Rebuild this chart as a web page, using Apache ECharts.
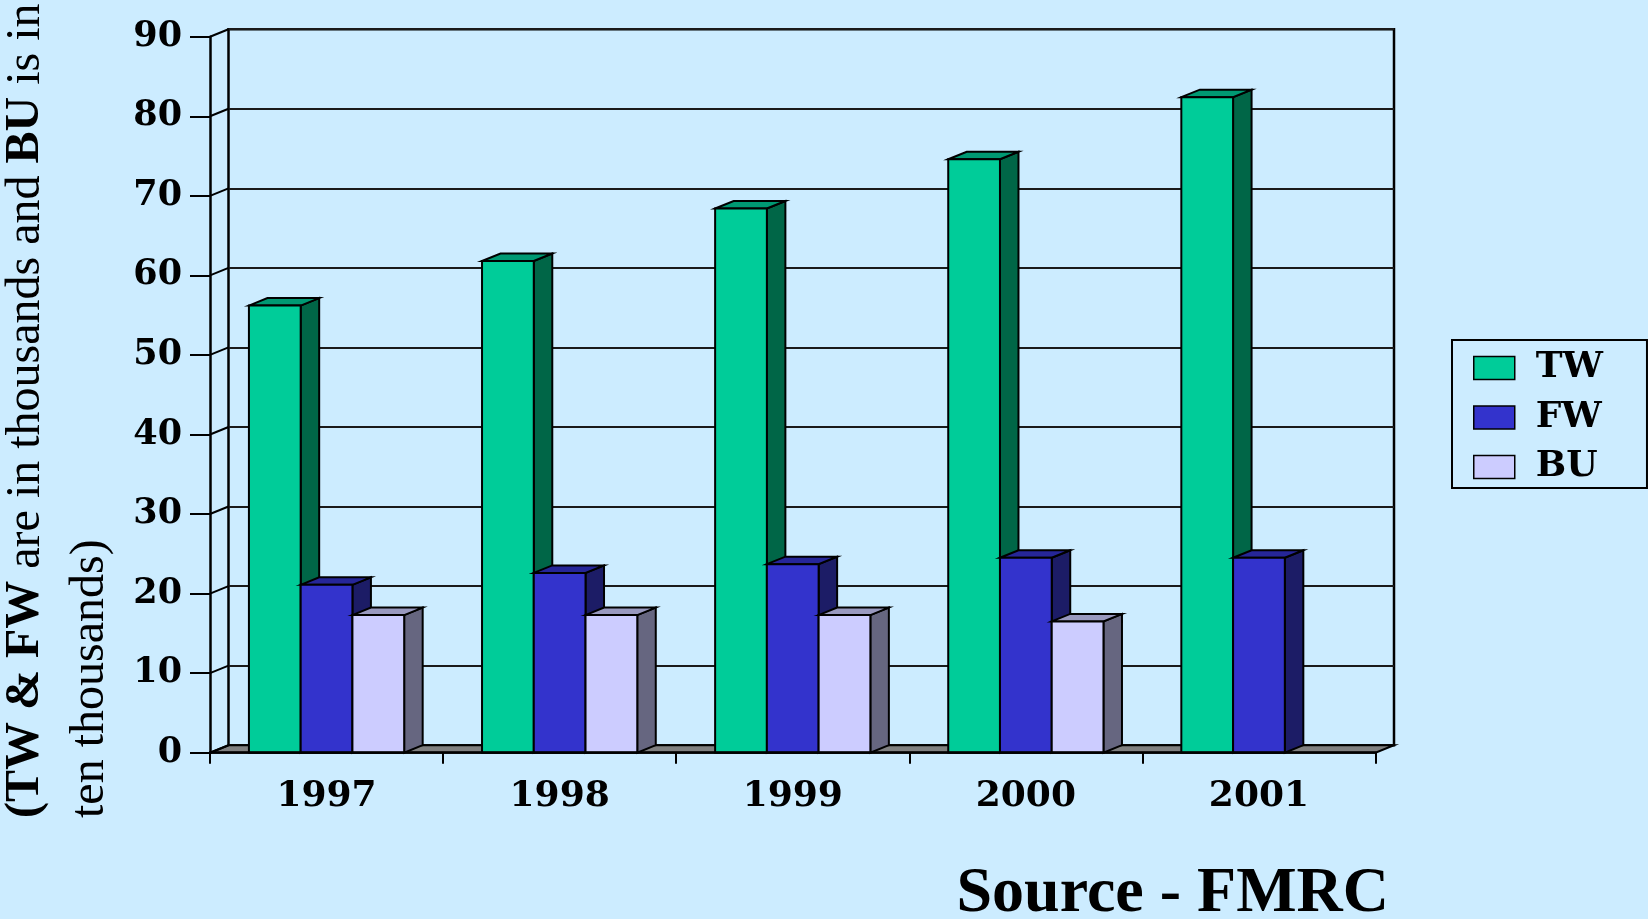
<!DOCTYPE html>
<html>
<head>
<meta charset="utf-8">
<style>
  html, body { margin: 0; padding: 0; background: #CCECFF; }
  #chart { width: 1648px; height: 919px; }
</style>
<script src="https://cdn.jsdelivr.net/npm/echarts@6/dist/echarts.min.js"></script>
</head>
<body>
<div id="chart"></div>
<script>
// Years on the category axis
const years = ['1997', '1998', '1999', '2000', '2001'];
// TW and FW in thousands, BU in ten thousands
const twValues = [56.2, 61.8, 68.4, 74.6, 82.4];
const fwValues = [21.1, 22.6, 23.7, 24.5, 24.5];
const buValues = [17.3, 17.3, 17.3, 16.5, null];
// Value axis range
const yMin = 0, yMax = 90, yStep = 10;
const yTicks = [0, 10, 20, 30, 40, 50, 60, 70, 80, 90];

// Perspective offset of the back plane relative to the front plane
const DX = 18.5, DY = -7.5;
const BAR_FRAC = 0.222; // one column's width as a share of a category band

const palette = {
  TW: { front: '#00CC99', top: '#009973', side: '#006647' },
  FW: { front: '#3333CC', top: '#262699', side: '#1C1C66' },
  BU: { front: '#CCCCFF', top: '#9999BF', side: '#666680' }
};

function column3d(name, slot) {
  const c = palette[name];
  return function (params, api) {
    const v = api.value(1);
    if (v == null || isNaN(v)) return;
    const idx = api.value(0);
    const base = api.coord([idx, 0]);
    const top = api.coord([idx, v]);
    const band = api.size([1, 0])[0];
    const w = band * BAR_FRAC;
    const cx = base[0] + slot * w;
    const x0 = cx - w / 2, x1 = cx + w / 2, y0 = base[1], y1 = top[1];
    const stroke = { stroke: '#000', lineWidth: 2, lineJoin: 'miter' };
    return {
      type: 'group',
      children: [
        { type: 'polygon', shape: { points: [[x1, y1], [x1 + DX, y1 + DY], [x1 + DX, y0 + DY], [x1, y0]] },
          style: Object.assign({ fill: c.side }, stroke) },
        { type: 'polygon', shape: { points: [[x0, y1], [x0 + DX, y1 + DY], [x1 + DX, y1 + DY], [x1, y1]] },
          style: Object.assign({ fill: c.top }, stroke) },
        { type: 'rect', shape: { x: x0, y: y1, width: w, height: y0 - y1 },
          style: Object.assign({ fill: c.front }, stroke) }
      ]
    };
  };
}

function toData(values) {
  const out = [];
  values.forEach(function (v, i) { if (v != null) out.push([i, v]); });
  return out;
}

const chart = echarts.init(document.getElementById('chart'), null, { width: 1648, height: 919 });

const labelFont = 'DejaVu Serif';

chart.setOption({
  backgroundColor: '#CCECFF',
  animation: false,
  grid: [
    // front plane: axes, ticks and columns
    { left: 210, top: 36.7, width: 1165.5, height: 716, show: false },
    // back wall
    { left: 210 + DX, top: 36.7 + DY, width: 1165.5, height: 716, show: true,
      borderColor: '#000', borderWidth: 2.5, backgroundColor: 'transparent' }
  ],
  xAxis: [
    { type: 'category', gridIndex: 0, data: years, boundaryGap: true,
      axisLine: { show: true, lineStyle: { color: '#000', width: 2.5 } },
      axisTick: { show: true, length: 11, lineStyle: { color: '#000', width: 2 } },
      axisLabel: { color: '#000', fontFamily: labelFont, fontWeight: 'bold', fontSize: 36, margin: 26 },
      splitLine: { show: false }, z: 5 },
    { type: 'category', gridIndex: 1, data: years, show: false }
  ],
  yAxis: [
    { type: 'value', gridIndex: 0, min: yMin, max: yMax, interval: yStep,
      axisLine: { show: true, lineStyle: { color: '#000', width: 2.5 } },
      axisTick: { show: true, length: 20, lineStyle: { color: '#000', width: 2 } },
      axisLabel: { color: '#000', fontFamily: labelFont, fontWeight: 'bold', fontSize: 35, margin: 28 },
      splitLine: { show: false } },
    { type: 'value', gridIndex: 1, min: yMin, max: yMax, interval: yStep,
      axisLine: { show: false }, axisTick: { show: false }, axisLabel: { show: false },
      splitLine: { show: true, lineStyle: { color: '#1a1a1a', width: 2 } } }
  ],
  legend: {
    data: ['TW', 'FW', 'BU'],
    orient: 'vertical',
    left: 1452, top: 340,
    padding: [10, 44, 3, 21],
    itemWidth: 41, itemHeight: 23, itemGap: 13.5,
    icon: 'rect',
    borderColor: '#000', borderWidth: 2,
    backgroundColor: '#CCECFF',
    itemStyle: { borderColor: '#000', borderWidth: 1.5 },
    textStyle: { color: '#000', fontFamily: labelFont, fontWeight: 'bold', fontSize: 36,
                 padding: [0, 0, 0, 16] }
  },
  graphic: [
    { type: 'text', x: -6, y: 818, rotation: Math.PI / 2,
      style: {
        text: '{b|(TW & FW}{n| are in thousands and }{b|BU}{n| is in}\n{n|ten thousands)}',
        align: 'left', verticalAlign: 'top', fill: '#000',
        rich: {
          b: { fontFamily: 'Liberation Serif', fontWeight: 'bold', fontSize: 48, lineHeight: 64, fill: '#000' },
          n: { fontFamily: 'Liberation Serif', fontWeight: 'normal', fontSize: 48, lineHeight: 64, fill: '#000' }
        }
      } },
    { type: 'text', x: 1389, y: 894,
      style: { text: 'Source - FMRC', align: 'right', verticalAlign: 'middle', fill: '#000',
               font: 'bold 64px "Liberation Serif"' } }
  ],
  series: [
    // grey floor between the front edge and the back wall
    { type: 'custom', name: 'floor', xAxisIndex: 0, yAxisIndex: 0, z: 1, silent: true,
      data: [[0, 0]],
      renderItem: function (params, api) {
        const r = params.coordSys;
        const yb = api.coord([0, 0])[1];
        return { type: 'polygon',
          shape: { points: [[r.x, yb], [r.x + DX, yb + DY], [r.x + r.width + DX, yb + DY], [r.x + r.width, yb]] },
          style: { fill: '#808080', stroke: '#000', lineWidth: 2 } };
      } },
    // left side wall: links from front ticks to the back wall grid lines
    { type: 'custom', name: 'sidewall', xAxisIndex: 0, yAxisIndex: 0, z: 2, silent: true,
      data: yTicks.map(function (t) { return [0, t]; }),
      renderItem: function (params, api) {
        const r = params.coordSys;
        const y = api.coord([0, api.value(1)])[1];
        return { type: 'line', shape: { x1: r.x, y1: y, x2: r.x + DX, y2: y + DY },
          style: { stroke: '#000', lineWidth: 2 } };
      } },
    { type: 'custom', name: 'TW', xAxisIndex: 0, yAxisIndex: 0, z: 3,
      itemStyle: { color: palette.TW.front },
      data: toData(twValues), renderItem: column3d('TW', -1) },
    { type: 'custom', name: 'FW', xAxisIndex: 0, yAxisIndex: 0, z: 3,
      itemStyle: { color: palette.FW.front },
      data: toData(fwValues), renderItem: column3d('FW', 0) },
    { type: 'custom', name: 'BU', xAxisIndex: 0, yAxisIndex: 0, z: 3,
      itemStyle: { color: palette.BU.front },
      data: toData(buValues), renderItem: column3d('BU', 1) }
  ]
});
</script>
</body>
</html>
